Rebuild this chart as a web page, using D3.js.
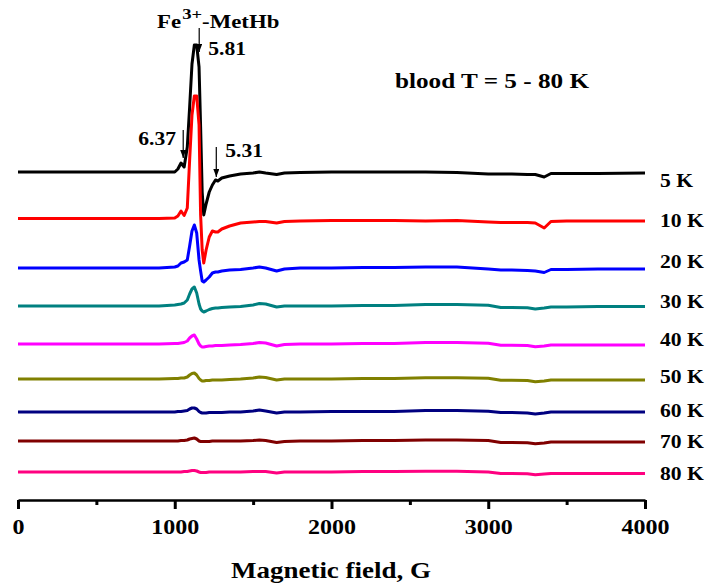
<!DOCTYPE html>
<html>
<head>
<title>EPR blood</title>
    <meta charset="utf-8">
    <script type="text/javascript" src="https://d3js.org/d3.v7.min.js"></script>
    <style>
        body { margin: 0; background: #fff; }
        text { font-family: 'Liberation Serif', 'Times New Roman', serif; font-weight: bold; fill: #000; }
    </style>
</head>
<body>
<svg width="711" height="588" id="mainsvg"></svg>
<script>

    // magnetic field grid, G
    const fields = [0, 300, 600, 900, 1000, 1020, 1040, 1060, 1080, 1095,
        1110, 1125, 1140, 1155, 1165, 1175, 1185, 1200, 1220, 1240,
        1260, 1275, 1300, 1350, 1420, 1500, 1540, 1580, 1650, 1700,
        1800, 2000, 2200, 2400, 2600, 2800, 3000, 3080, 3150, 3250,
        3300, 3357, 3400, 3500, 3700, 4000];

    const temps = [5, 10, 20, 30, 40, 50, 60, 70, 80];
    const colors = ['#000000', '#ff0000', '#0000ff', '#008080', '#ff00ff', '#808000', '#000080', '#800000', '#ff0080'];
    // vertical shift of each spectrum (a.u.)
    const offsets = [328, 280, 232, 194, 156, 121, 88, 59, 28];

    // EPR signal (a.u.) on the field grid
    const s5K  = [0,0,0,0, 0,3,9,5,25,65, 108,127,127,105,45,-20,-43,-32,-20,-13, -8,-9,-6,-4,-2,-1,0,-1,-2.5,-1, -0.5,0,0,0,0,-0.5,-2,-2,-2,-2.5, -2.5,-5,-1.5,-1.5,-1.5,-1];
    const s10K = [1.5,1.5,1.5,1.5, 2,4,9,4.5,12,60, 105,124,124,95,5,-30,-43,-30,-17,-11, -12,-12,-9,-6,-3,-2,-1.5,-1.5,-3,-1.5, -1,-0.5,-0.5,-0.5,-1,-0.5,-2,-2.5,-2.5,-2.5, -3,-8,-1.5,-1,-1,-1];
    const s20K = [0,0,0,0, 1,2,5,6,8,22, 37,43,35,8,-3,-13,-14,-12,-9,-5, -4,-4,-3,-2,-1.5,0,1,0,-3,-1, 0,0,0.5,0.5,1,1,-1,-2,-2,-2.5, -3,-4.5,-1.5,-1.5,-1,-1];
    const s30K = [0,0,0,0, 1,1.5,2,3,6,12, 17,19,13,2,-3,-5,-6,-5,-3.5,-2.5, -2,-2,-1.5,-1,-0.5,1,2.5,2,-1,0, 0,0,0.5,0.5,1.5,1.5,0.8,-1.5,-1.5,-1.8, -3,-2,-1,-1,-0.5,-0.5];
    const s40K = [0,0,0,0, 0.5,0.5,1,1.5,3,6, 8,9,5,0,-2,-3,-3,-2.5,-2,-2, -1.5,-1.5,-1.5,-1,-0.5,0.5,1.5,1,-2,-0.5, 0,0,0.5,0.5,1.5,1.5,0.8,-1.2,-1.2,-1.5, -2.8,-2,-1,-1,-1,-1];
    const s50K = [0,0,0,0, 0.5,0.5,1,1,2,4, 5.5,6,4,0.5,-1,-2,-2,-1.5,-1.5,-1, -1,-1,-1,-0.5,0,1,2,1.5,-1,0, 0,0,0.5,0.5,1.3,1.3,0.8,-1.2,-1.2,-1.5, -2.8,-2,-1,-1,-1,-1];
    const s60K = [0,0,0,0, 0,0.5,0.5,1,1.5,3, 4,4,3,0.5,-0.5,-1,-1,-1,-0.5,-0.5, -0.5,-0.5,-0.5,0,0,1,2,1,-1,0, 0,0.5,0.5,0.5,1.5,1.5,0.8,-0.5,-0.5,-1, -2,-1,0,0,0,0];
    const s70K = [0,0,0,0, 0,0,0.5,0.5,1,2, 2.5,3,2,0,-0.5,-0.5,-0.5,-0.5,-0.5,0, 0,0,0,0,0,0.5,1,0.5,-1.5,-0.5, 0,0,0.5,0.5,1,1,0.5,-1.5,-1.5,-1.8, -2.8,-2,-1,-1,-1,-1];
    const s80K = [0,0,0,0, 0,0,0,0.5,0.5,1, 1.5,1.5,1,0,-0.5,-0.5,-0.5,-0.5,0,0, 0,0,0,0,0,0.5,0.5,0.5,-1,0, 0,0,0.5,0.5,0.7,0.7,0,-1.5,-1.5,-1.8, -2.8,-2,-1.5,-1.5,-1.5,-1.5];
    const signals = [s5K, s10K, s20K, s30K, s40K, s50K, s60K, s70K, s80K];

    const xTicks = [0, 1000, 2000, 3000, 4000];
    const xMinorTicks = [500, 1500, 2500, 3500];

    // g-factor marks: label and resonance field, G
    const gMarks = [{g: '6.37', field: 1054}, {g: '5.81', field: 1156}, {g: '5.31', field: 1265}];

    const svg = d3.select('#mainsvg');
    const stretch = 1.2;   // text in the original is drawn a bit wide

    const xScale = d3.scaleLinear().domain([0, 4000]).range([18, 645]);
    const yScale = d3.scaleLinear().domain([0, 480]).range([500, 20]);

    function addText(x, y, str, size, anchor) {
        return svg.append('text')
            .attr('transform', `translate(${x},${y}) scale(${stretch},1)`)
            .attr('font-size', size)
            .attr('text-anchor', anchor || 'start')
            .text(str);
    }

    // spectra
    const line = d3.line()
        .x(d => xScale(d[0]))
        .y(d => yScale(d[1]));

    signals.forEach((s, i) => {
        const pts = fields.map((f, j) => [f, offsets[i] + s[j]]);
        svg.append('path')
            .attr('d', line(pts))
            .attr('fill', 'none')
            .attr('stroke', colors[i])
            .attr('stroke-width', 3)
            .attr('stroke-linejoin', 'round');
    });

    // temperature labels
    const labelNudge = [15, 7, 0, 2, 2, 4, 5, 7, 8];
    temps.forEach((t, i) => {
        addText(660, yScale(offsets[i]) + labelNudge[i], `${t} K`, 18);
    });

    // x axis
    const axisG = svg.append('g').attr('transform', 'translate(0,500)');
    axisG.call(d3.axisBottom(xScale).tickValues(xTicks).tickFormat(d3.format('d')).tickSize(9).tickSizeOuter(0));
    axisG.append('g').call(d3.axisBottom(xScale).tickValues(xMinorTicks).tickSize(5).tickFormat(''))
        .select('.domain').remove();
    axisG.selectAll('.domain').attr('stroke-width', 2.7);
    axisG.selectAll('.tick line').attr('stroke-width', 3);
    axisG.selectAll('.tick text')
        .attr('y', 34).attr('dy', 0)
        .attr('font-size', 20)
        .attr('font-family', "'Liberation Serif', 'Times New Roman', serif")
        .attr('font-weight', 'bold')
        .attr('fill', '#000')
        .attr('transform', `scale(${stretch},1)`);

    addText(331, 578, 'Magnetic field, G', 22.5, 'middle');
    addText(492, 88, 'blood T = 5 - 80 K', 21, 'middle');

    // Fe3+-MetHb title
    const fe = addText(157, 28, '', 19);
    fe.append('tspan').text('Fe');
    fe.append('tspan').attr('font-size', 15.5).attr('dy', -9).attr('dx', 1).text('3+');
    fe.append('tspan').attr('dy', 9).text('-MetHb');

    // arrows for g-factors
    svg.append('defs').append('marker')
        .attr('id', 'arrow')
        .attr('markerUnits', 'userSpaceOnUse')
        .attr('markerWidth', 8).attr('markerHeight', 8)
        .attr('refX', 8).attr('refY', 3)
        .attr('orient', 'auto')
        .append('path').attr('d', 'M0,0L8,3L0,6Z').attr('fill', '#000');

    const arrowSpan = {'6.37': [130, 158], '5.81': [28, 52], '5.31': [147, 177]};
    const labelPos = {'6.37': [-45, 145], '5.81': [9, 55], '5.31': [9, 157]};
    gMarks.forEach(m => {
        const x = xScale(m.field);
        svg.append('line')
            .attr('x1', x).attr('x2', x)
            .attr('y1', arrowSpan[m.g][0]).attr('y2', arrowSpan[m.g][1])
            .attr('stroke', '#000').attr('stroke-width', 1.2)
            .attr('marker-end', 'url(#arrow)');
        addText(x + labelPos[m.g][0], labelPos[m.g][1], m.g, 18);
    });

</script>
</body>
</html>
